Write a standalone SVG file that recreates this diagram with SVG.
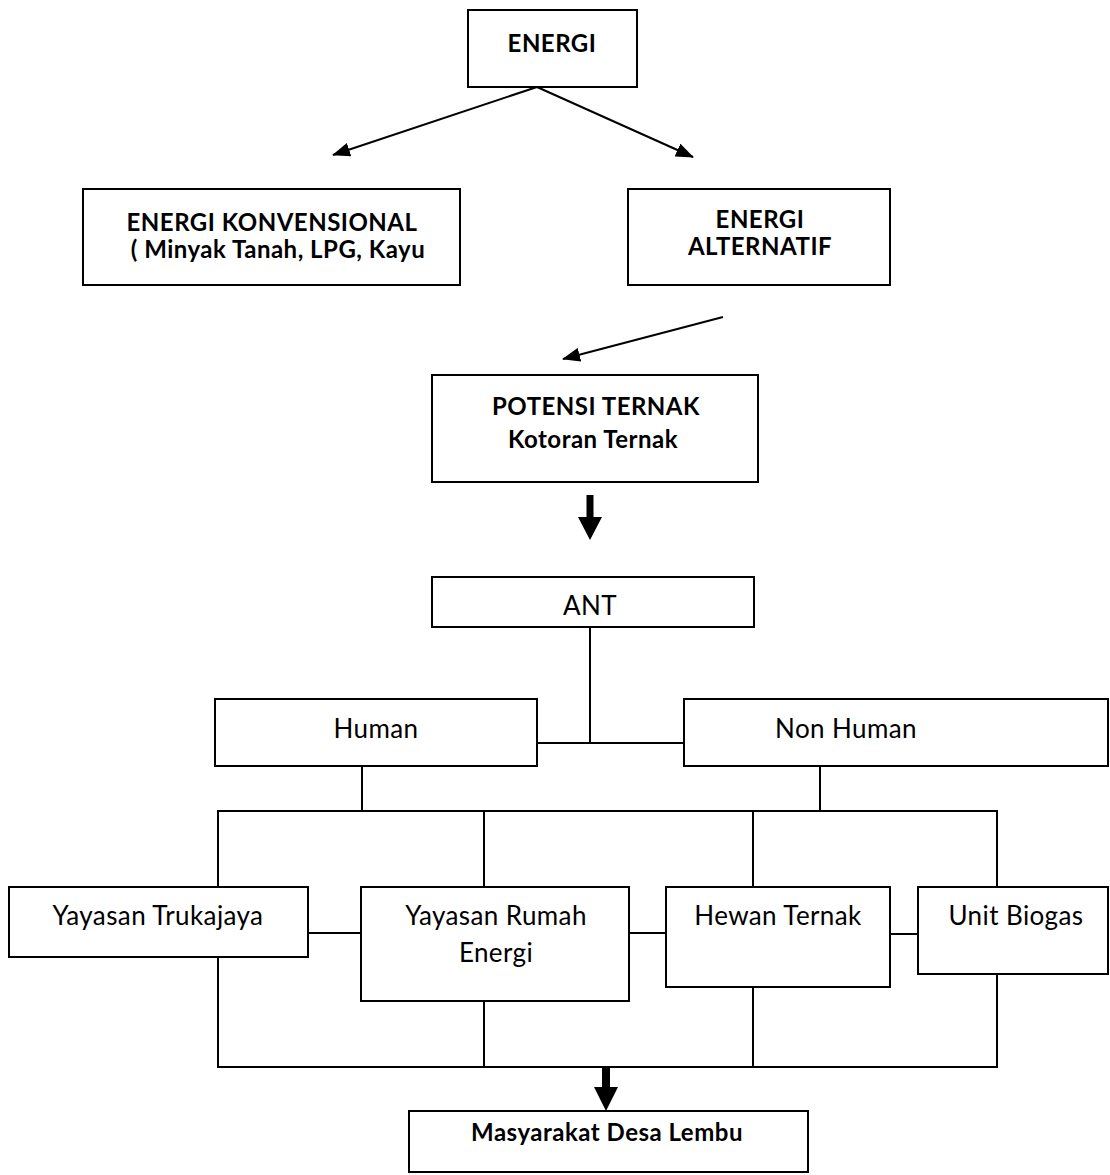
<svg xmlns="http://www.w3.org/2000/svg" width="1110" height="1175" viewBox="0 0 1110 1175">
<style>
.box{fill:#fff;stroke:#000;stroke-width:2}
.ln{stroke:#000;stroke-width:2;fill:none}
.t{font-family:Lato,"Open Sans","Liberation Sans",sans-serif;font-size:26px;letter-spacing:0.4px;fill:#000;text-anchor:middle}
.b{font-weight:bold;font-size:24px;letter-spacing:0.5px}
</style>
<defs>
<marker id="ah" markerUnits="userSpaceOnUse" markerWidth="18" markerHeight="14" refX="17" refY="7" orient="auto">
<path d="M0,0 L18,7 L0,14 z" fill="#000"/>
</marker>
</defs>
<rect width="1110" height="1175" fill="#fff"/>
<g id="connectors">
<line class="ln" x1="537" y1="87" x2="333" y2="155" marker-end="url(#ah)"/>
<line class="ln" x1="537" y1="87" x2="693" y2="157" marker-end="url(#ah)"/>
<line class="ln" x1="723" y1="317" x2="563" y2="359" marker-end="url(#ah)"/>
<path d="M586.5,495 H593.5 V517 H602 L590,540 L578,517 H586.5 Z" fill="#000"/>
<line class="ln" x1="590" y1="627" x2="590" y2="743"/>
<line class="ln" x1="537" y1="743" x2="684" y2="743"/>
<line class="ln" x1="362" y1="766" x2="362" y2="811"/>
<line class="ln" x1="820" y1="766" x2="820" y2="811"/>
<line class="ln" x1="217" y1="811" x2="998" y2="811"/>
<line class="ln" x1="218" y1="811" x2="218" y2="887"/>
<line class="ln" x1="484" y1="811" x2="484" y2="887"/>
<line class="ln" x1="753" y1="811" x2="753" y2="887"/>
<line class="ln" x1="997" y1="811" x2="997" y2="887"/>
<line class="ln" x1="308" y1="933" x2="361" y2="933"/>
<line class="ln" x1="629" y1="933" x2="666" y2="933"/>
<line class="ln" x1="890" y1="934" x2="918" y2="934"/>
<line class="ln" x1="218" y1="957" x2="218" y2="1067"/>
<line class="ln" x1="484" y1="1001" x2="484" y2="1067"/>
<line class="ln" x1="753" y1="987" x2="753" y2="1067"/>
<line class="ln" x1="997" y1="974" x2="997" y2="1067"/>
<line class="ln" x1="217" y1="1067" x2="998" y2="1067"/>
<path d="M602,1067 H610 V1087 H618 L606,1111 L594,1087 H602 Z" fill="#000"/>
</g>
<g id="energi">
<rect class="box" x="468" y="10" width="169" height="77"/>
<text class="t b" x="552" y="52">ENERGI</text>
</g>
<g id="konvensional">
<rect class="box" x="83" y="189" width="377" height="96"/>
<text class="t b" x="272" y="231">ENERGI KONVENSIONAL</text>
<text class="t b" x="278" y="258">( Minyak Tanah, LPG, Kayu</text>
</g>
<g id="alternatif">
<rect class="box" x="628" y="189" width="262" height="96"/>
<text class="t b" x="760" y="228">ENERGI</text>
<text class="t b" x="760" y="255">ALTERNATIF</text>
</g>
<g id="potensi">
<rect class="box" x="432" y="375" width="326" height="107"/>
<text class="t b" x="596" y="415">POTENSI TERNAK</text>
<text class="t b" x="593" y="448">Kotoran Ternak</text>
</g>
<g id="ant">
<rect class="box" x="432" y="577" width="322" height="50"/>
<text class="t" x="590" y="615">ANT</text>
</g>
<g id="human">
<rect class="box" x="215" y="699" width="322" height="67"/>
<text class="t" x="376" y="738">Human</text>
</g>
<g id="nonhuman">
<rect class="box" x="684" y="699" width="424" height="67"/>
<text class="t" x="846" y="738">Non Human</text>
</g>
<g id="trukajaya">
<rect class="box" x="9" y="887" width="299" height="70"/>
<text class="t" x="158" y="925">Yayasan Trukajaya</text>
</g>
<g id="rumah">
<rect class="box" x="361" y="887" width="268" height="114"/>
<text class="t" x="496" y="925">Yayasan Rumah</text>
<text class="t" x="496" y="962">Energi</text>
</g>
<g id="hewan">
<rect class="box" x="666" y="887" width="224" height="100"/>
<text class="t" x="778" y="925">Hewan Ternak</text>
</g>
<g id="biogas">
<rect class="box" x="918" y="887" width="190" height="87"/>
<text class="t" x="1016" y="925">Unit Biogas</text>
</g>
<g id="masyarakat">
<rect class="box" x="409" y="1111" width="399" height="61"/>
<text class="t b" x="607" y="1141">Masyarakat Desa Lembu</text>
</g>
</svg>
